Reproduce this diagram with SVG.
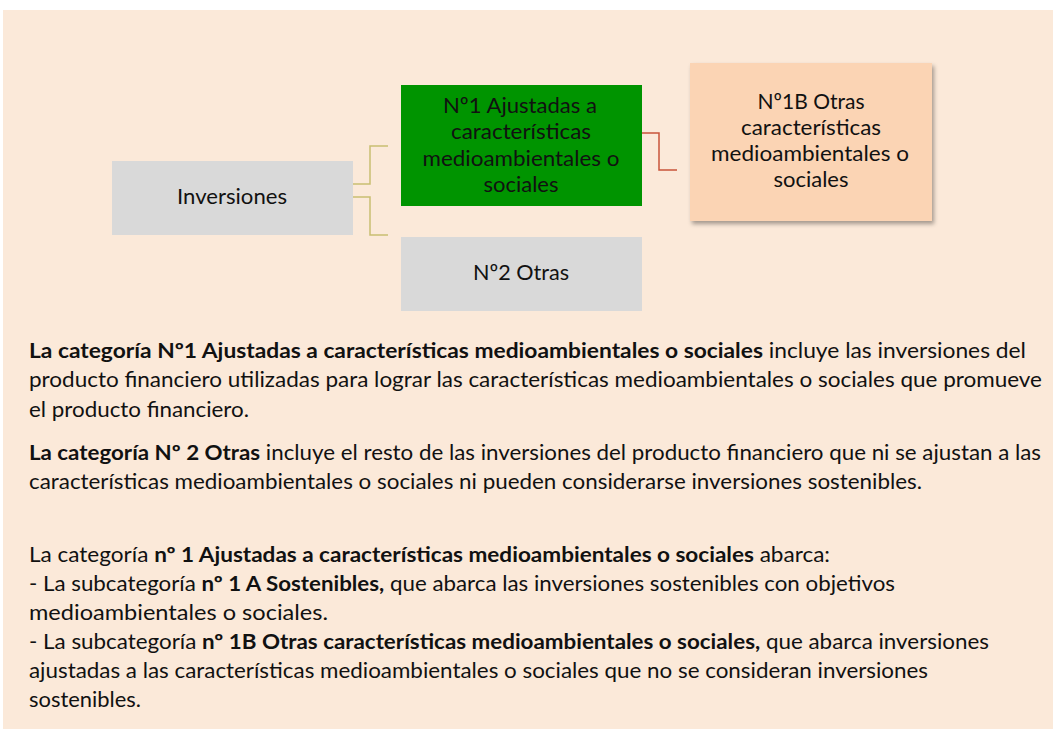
<svg xmlns="http://www.w3.org/2000/svg" width="1053" height="729" viewBox="0 0 1053 729">
<style>
.nt{font-family:Lato,"Open Sans","Liberation Sans",sans-serif;font-size:22px;fill:#111;text-anchor:middle}
.bt{font-family:Lato,"Open Sans","Liberation Sans",sans-serif;font-size:21px;fill:#111}
.b{font-weight:bold}
.c1{fill:none;stroke:#C9BE72;stroke-width:1.5}
.c2{fill:none;stroke:#C9543A;stroke-width:1.5}
</style>
<defs>
<filter id="sh" x="-10%" y="-10%" width="130%" height="130%">
<feDropShadow dx="2" dy="3" stdDeviation="2" flood-color="#000" flood-opacity="0.35"/>
</filter>
</defs>
<rect x="0" y="0" width="1053" height="729" fill="#fff"/>
<rect x="3" y="10" width="1050" height="719" fill="#FBE9D9"/>
<g id="connectors">
<polyline class="c1" points="353,184 370,184 370,146 388,146"/>
<polyline class="c1" points="353,197 370,197 370,235 388,235"/>
<polyline class="c2" points="642,133 659,133 659,170 677,170"/>
</g>
<g id="inversiones">
<rect x="112" y="161" width="241" height="74" fill="#D9D9D9"/>
<text class="nt" x="232" y="204" textLength="110" lengthAdjust="spacingAndGlyphs">Inversiones</text>
</g>
<g id="n1">
<rect x="401" y="85" width="241" height="121" fill="#009400"/>
<text class="nt" x="520" y="113" textLength="154" lengthAdjust="spacingAndGlyphs">Nº1 Ajustadas a</text>
<text class="nt" x="521" y="139" textLength="140" lengthAdjust="spacingAndGlyphs">características</text>
<text class="nt" x="521" y="166" textLength="197" lengthAdjust="spacingAndGlyphs">medioambientales o</text>
<text class="nt" x="521" y="192" textLength="75" lengthAdjust="spacingAndGlyphs">sociales</text>
</g>
<g id="n2">
<rect x="401" y="237" width="241" height="74" fill="#D9D9D9"/>
<text class="nt" x="521" y="280" textLength="96" lengthAdjust="spacingAndGlyphs">Nº2 Otras</text>
</g>
<g id="n1b">
<rect x="690" y="63" width="242" height="158" fill="#FBD4B4" filter="url(#sh)"/>
<text class="nt" x="811" y="109" textLength="107" lengthAdjust="spacingAndGlyphs">Nº1B Otras</text>
<text class="nt" x="811" y="135" textLength="140" lengthAdjust="spacingAndGlyphs">características</text>
<text class="nt" x="810" y="161" textLength="198" lengthAdjust="spacingAndGlyphs">medioambientales o</text>
<text class="nt" x="811" y="187" textLength="75" lengthAdjust="spacingAndGlyphs">sociales</text>
</g>
<g id="texto">
<text class="bt" x="29" y="358" textLength="997" lengthAdjust="spacingAndGlyphs"><tspan class="b">La categoría Nº1 Ajustadas a características medioambientales o sociales</tspan> incluye las inversiones del</text>
<text class="bt" x="29" y="387" textLength="1013" lengthAdjust="spacingAndGlyphs">producto financiero utilizadas para lograr las características medioambientales o sociales que promueve</text>
<text class="bt" x="29" y="417" textLength="220" lengthAdjust="spacingAndGlyphs">el producto financiero.</text>
<text class="bt" x="29" y="460" textLength="1012" lengthAdjust="spacingAndGlyphs"><tspan class="b">La categoría Nº 2 Otras</tspan> incluye el resto de las inversiones del producto financiero que ni se ajustan a las</text>
<text class="bt" x="29" y="489" textLength="893" lengthAdjust="spacingAndGlyphs">características medioambientales o sociales ni pueden considerarse inversiones sostenibles.</text>
<text class="bt" x="29" y="562" textLength="801" lengthAdjust="spacingAndGlyphs">La categoría <tspan class="b">nº 1 Ajustadas a características medioambientales o sociales</tspan> abarca:</text>
<text class="bt" x="29" y="591" textLength="866" lengthAdjust="spacingAndGlyphs">- La subcategoría <tspan class="b">nº 1 A Sostenibles,</tspan> que abarca las inversiones sostenibles con objetivos</text>
<text class="bt" x="29" y="620" textLength="299" lengthAdjust="spacingAndGlyphs">medioambientales o sociales.</text>
<text class="bt" x="29" y="649" textLength="960" lengthAdjust="spacingAndGlyphs">- La subcategoría <tspan class="b">nº 1B Otras características medioambientales o sociales,</tspan> que abarca inversiones</text>
<text class="bt" x="29" y="678" textLength="899" lengthAdjust="spacingAndGlyphs">ajustadas a las características medioambientales o sociales que no se consideran inversiones</text>
<text class="bt" x="29" y="707" textLength="112" lengthAdjust="spacingAndGlyphs">sostenibles.</text>
</g>
</svg>
